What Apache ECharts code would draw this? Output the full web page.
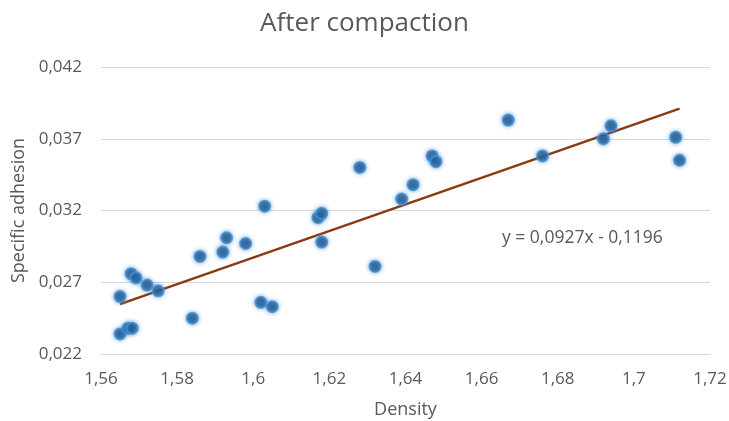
<!DOCTYPE html>
<html>
<head>
<meta charset="utf-8">
<script src="https://cdn.jsdelivr.net/npm/echarts@6/dist/echarts.min.js"></script>
<style>
  html, body { margin: 0; padding: 0; background: #ffffff; }
  #chart { width: 729px; height: 421px; }
</style>
</head>
<body>
<div id="chart"></div>
<script>
// Measured samples: density vs. specific adhesion after compaction
const density = [
  1.565, 1.565, 1.5671, 1.5682, 1.5679, 1.5692, 1.5721, 1.575,
  1.584, 1.586, 1.592, 1.593, 1.598, 1.602, 1.603, 1.605,
  1.617, 1.618, 1.618, 1.628, 1.632, 1.639, 1.642, 1.647,
  1.648, 1.667, 1.676, 1.692, 1.694, 1.711, 1.712
];
const adhesion = [
  0.0260, 0.0234, 0.0238, 0.0238, 0.0276, 0.0273, 0.0268, 0.0264,
  0.0245, 0.0288, 0.0291, 0.0301, 0.0297, 0.0256, 0.0323, 0.0253,
  0.0315, 0.0318, 0.0298, 0.0350, 0.0281, 0.0328, 0.0338, 0.0358,
  0.0354, 0.0383, 0.0358, 0.0370, 0.0379, 0.0371, 0.0355
];

// Linear trend line coefficients
const slope = 0.0927;
const intercept = -0.1196;
const equationText = 'y = 0,0927x - 0,1196';

// Axis ranges and tick steps
const xMin = 1.56, xMax = 1.72, xStep = 0.02;
const yMin = 0.022, yMax = 0.042, yStep = 0.005;

const points = density.map((d, i) => [d, adhesion[i]]);
const xLo = Math.min(...density), xHi = Math.max(...density);
const trend = [[xLo, slope * xLo + intercept], [xHi, slope * xHi + intercept]];

const FONT = 'Open Sans';
const TXT = '#595959';

const chart = echarts.init(document.getElementById('chart'), null, { renderer: 'canvas' });
chart.setOption({
  animation: false,
  backgroundColor: '#ffffff',
  title: {
    text: 'After compaction',
    left: 'center',
    top: 6,
    textStyle: { fontFamily: FONT, fontSize: 26, fontWeight: 'normal', color: TXT }
  },
  grid: {
    left: 101, right: 19, top: 67, bottom: 67,
    containLabel: false,
    outerBoundsMode: 'none'
  },
  xAxis: {
    type: 'value',
    min: xMin, max: xMax, interval: xStep,
    name: 'Density',
    nameLocation: 'middle',
    nameGap: 47,
    nameTextStyle: { fontFamily: FONT, fontSize: 18, color: TXT },
    axisLine: { show: true, lineStyle: { color: '#d9d9d9', width: 1 } },
    axisTick: { show: false },
    splitLine: { show: false },
    axisLabel: {
      fontFamily: FONT, fontSize: 17, color: TXT, margin: 17,
      formatter: v => String(Number(v.toFixed(2))).replace('.', ',')
    }
  },
  yAxis: {
    type: 'value',
    min: yMin, max: yMax, interval: yStep,
    name: 'Specific adhesion',
    nameLocation: 'middle',
    nameGap: 65,
    nameTextStyle: { fontFamily: FONT, fontSize: 18, color: TXT },
    axisLine: { show: false },
    axisTick: { show: false },
    splitLine: { show: true, lineStyle: { color: '#d9d9d9', width: 1 } },
    axisLabel: {
      fontFamily: FONT, fontSize: 17, color: TXT, margin: 19,
      formatter: v => v.toFixed(3).replace('.', ',')
    }
  },
  series: [
    {
      type: 'line',
      data: trend,
      symbol: 'none',
      lineStyle: { color: '#8b3a10', width: 2.5 },
      z: 3,
      silent: true
    },
    {
      type: 'scatter',
      data: points,
      symbol: 'circle',
      symbolSize: 11,
      itemStyle: {
        color: '#1f5283',
        borderColor: '#3f8fd2',
        borderWidth: 2,
        shadowBlur: 4,
        shadowColor: 'rgba(70,140,210,0.8)'
      },
      z: 4
    }
  ],
  graphic: [
    {
      type: 'text',
      left: 502,
      top: 229,
      style: { text: equationText, fontFamily: FONT, fontSize: 17.5, fill: TXT }
    }
  ]
});
</script>
</body>
</html>
